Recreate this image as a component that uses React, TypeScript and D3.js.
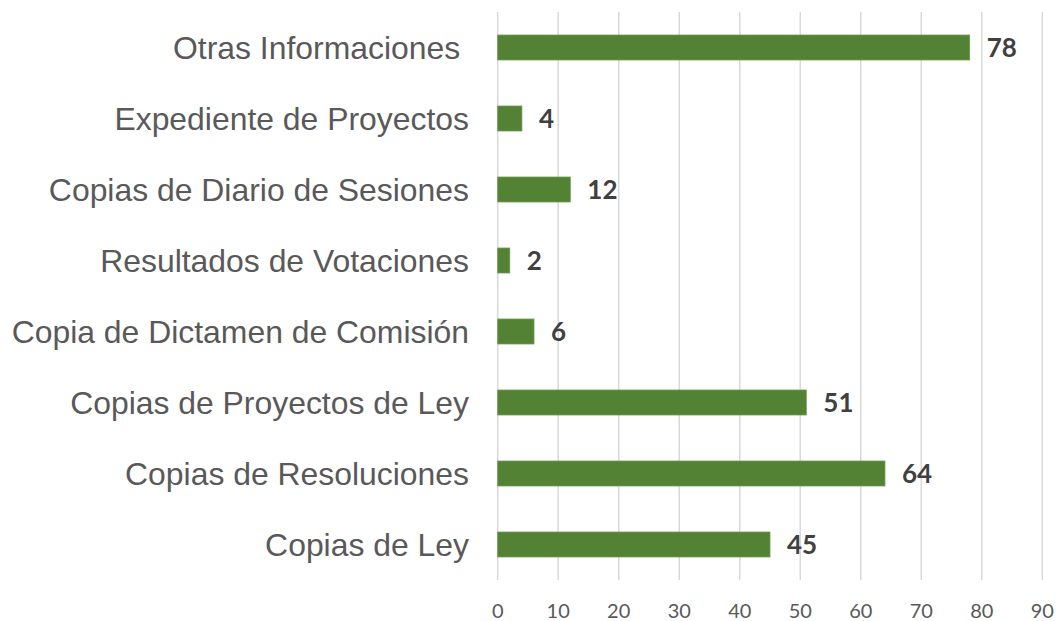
import React from "react";
import * as d3 from "d3";

const categories = [
  "Otras Informaciones ",
  "Expediente de Proyectos",
  "Copias de Diario de Sesiones",
  "Resultados de Votaciones",
  "Copia de Dictamen de Comisión",
  "Copias de Proyectos de Ley",
  "Copias de Resoluciones",
  "Copias de Ley",
];
const values = [78, 4, 12, 2, 6, 51, 64, 45];
const ticks = [0, 10, 20, 30, 40, 50, 60, 70, 80, 90];

export default function App() {
  const W = 1056, H = 621;
  const x = d3.scaleLinear().domain([0, 90]).range([497.7, 1042.3]);
  const y = d3.scaleBand<string>().domain(categories).range([12, 580]).paddingInner(0.648).paddingOuter(0.324);
  return (
    <svg width={W} height={H} style={{ position: "absolute", left: 0, top: 0, background: "#fff" }}>
      {ticks.map((t) => (
        <line key={"g" + t} x1={x(t)} x2={x(t)} y1={12} y2={580} stroke="#d9d9d9" strokeWidth={1.5} />
      ))}
      {categories.map((c, i) => (
        <g key={c}>
          <rect x={x(0)} y={y(c)!} width={x(values[i]) - x(0)} height={y.bandwidth()} fill="#548235" stroke="#6f9a52" strokeWidth={0.8} />
          <text x={x(values[i]) + 17} y={y(c)! + y.bandwidth() / 2} dy="0.36em" fontFamily="Lato, 'Open Sans', sans-serif" fontWeight="bold" fontSize={26} fill="#404040">{values[i]}</text>
          <text x={469} y={y(c)! + y.bandwidth() / 2} dy="0.36em" textAnchor="end" fontFamily="'Liberation Sans', Arial, sans-serif" fontSize={31.9} fill="#595959" style={{ whiteSpace: "pre" }}>{c}</text>
        </g>
      ))}
      {ticks.map((t) => (
        <text key={"t" + t} x={x(t)} y={611} dy="0.36em" textAnchor="middle" fontFamily="Lato, 'Open Sans', sans-serif" fontSize={20} fill="#595959">{t}</text>
      ))}
    </svg>
  );
}
